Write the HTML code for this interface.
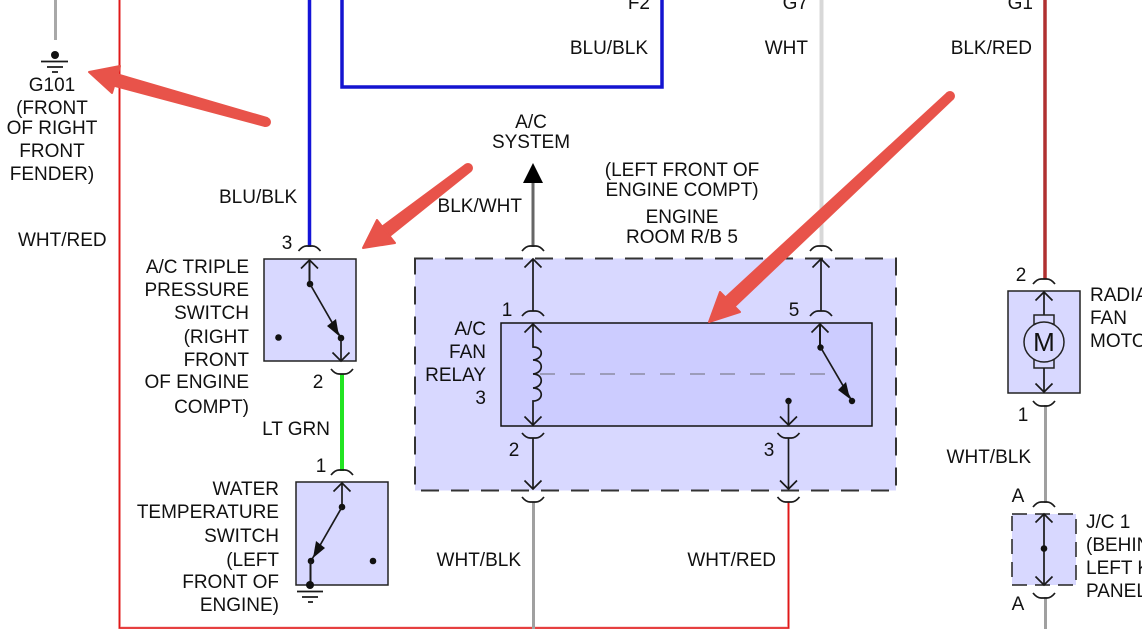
<!DOCTYPE html>
<html><head><meta charset="utf-8"><style>
html,body{margin:0;padding:0;background:#fff}
svg{display:block}
text{font-family:"Liberation Sans",sans-serif;font-size:19px;fill:#111}
.e{text-anchor:end}.m{text-anchor:middle}
.k{fill:none;stroke:#1a1a1a;stroke-width:1.7}
.d{fill:#111;stroke:none}
</style></head><body>
<svg width="1142" height="629" viewBox="0 0 1142 629" xmlns="http://www.w3.org/2000/svg">
<defs>
<path id="ct" class="k" d="M-11 5Q-7 0 -3 0H3Q7 0 11 5"/>
<path id="cb" class="k" d="M-11 0Q-7 5 -3 5H3Q7 5 11 0"/>
<path id="au" class="k" d="M-8.500 8.500L0 0L8.500 8.500"/>
<path id="ad" class="k" d="M-8.500 -8.500L0 0L8.500 -8.500"/>
</defs>
<rect width="1142" height="629" fill="#fff"/>

<!-- wires -->
<line x1="55.500" y1="0" x2="55.500" y2="40" stroke="#a8a8a8" stroke-width="3"/>
<path d="M119.500 0V628H788.500V502" fill="none" stroke="#f6b8b8" stroke-width="3"/>
<path d="M119.500 0V628H788.500V502" fill="none" stroke="#e01818" stroke-width="1.500"/>
<line x1="309.500" y1="0" x2="309.500" y2="247" stroke="#1414d8" stroke-width="3.500"/>
<path d="M342 0V87H662V0" fill="none" stroke="#1414d0" stroke-width="3.500"/>
<line x1="342" y1="374" x2="342" y2="471" stroke="#22e422" stroke-width="4"/>
<line x1="533" y1="180" x2="533" y2="247" stroke="#666" stroke-width="3"/>
<line x1="533.500" y1="502" x2="533.500" y2="629" stroke="#a0a0a0" stroke-width="3"/>
<line x1="821.500" y1="0" x2="821.500" y2="246" stroke="#d8d8d8" stroke-width="4"/>
<line x1="1045" y1="0" x2="1045" y2="279" stroke="#b03030" stroke-width="3.500"/>
<line x1="1045.500" y1="405" x2="1045.500" y2="503" stroke="#a0a0a0" stroke-width="3"/>
<line x1="1045.500" y1="597" x2="1045.500" y2="629" stroke="#a0a0a0" stroke-width="3"/>
<path d="M523 183H543L533 163Z" fill="#000"/>

<!-- ground G101 -->
<circle cx="55" cy="55" r="4" fill="#111"/>
<path class="k" d="M41 61.500H68M47 67H63M52 72H58"/>

<!-- big dashed box -->
<rect x="415" y="258.500" width="481" height="232" fill="#d8d8ff" stroke="#333" stroke-width="2" stroke-dasharray="18 12"/>
<rect x="501" y="323" width="371" height="103" fill="#ccccff" stroke="#111" stroke-width="1.500"/>
<line x1="540" y1="374" x2="825" y2="374" stroke="#808090" stroke-width="1.300" stroke-dasharray="15 15"/>

<!-- relay left column -->
<use href="#ct" x="533" y="246"/>
<use href="#au" x="533" y="259"/>
<line class="k" x1="533" y1="259" x2="533" y2="311"/>
<use href="#ct" x="533" y="311"/>
<use href="#au" x="533" y="324"/>
<path class="k" d="M533 324V347C544 347 544 359 533 360C544 360 544 373 533 374C544 374 544 387 533 388C544 388 544 401 533 401V425"/>
<use href="#ad" x="533" y="425"/>
<use href="#cb" x="533" y="433"/>
<line class="k" x1="533" y1="438" x2="533" y2="488"/>
<use href="#ad" x="533" y="489"/>
<use href="#cb" x="533" y="497"/>

<!-- relay right column -->
<use href="#ct" x="821" y="246"/>
<use href="#au" x="821" y="259"/>
<line class="k" x1="821" y1="259" x2="821" y2="311"/>
<use href="#ct" x="821" y="311"/>
<use href="#au" x="820" y="324"/>
<line x1="820" y1="324" x2="820" y2="347" stroke="#1a1a1a" stroke-width="2"/>
<circle class="d" cx="820.500" cy="347.500" r="3.200"/>
<line class="k" x1="821" y1="348" x2="852" y2="401"/>
<path class="d" d="M850 399L838 390L846 382Z"/>
<circle class="d" cx="852" cy="401" r="3.200"/>
<circle class="d" cx="788.500" cy="401" r="3.200"/>
<line class="k" x1="788.500" y1="401" x2="788.500" y2="424"/>
<use href="#ad" x="788.500" y="425"/>
<use href="#cb" x="788.500" y="433"/>
<line class="k" x1="788.500" y1="438" x2="788.500" y2="488"/>
<use href="#ad" x="788.500" y="489"/>
<use href="#cb" x="788.500" y="497"/>

<!-- triple pressure switch -->
<use href="#ct" x="309.500" y="246"/>
<rect x="264" y="259" width="92" height="102" fill="#d8d8ff" stroke="#222" stroke-width="1.500"/>
<use href="#au" x="309.500" y="260"/>
<line x1="309.500" y1="260" x2="309.500" y2="284" stroke="#1a1a1a" stroke-width="2"/>
<circle class="d" cx="310" cy="284" r="3.300"/>
<line class="k" x1="310" y1="284" x2="341" y2="338"/>
<path class="d" d="M339 336L327 326L336 319Z"/>
<circle class="d" cx="341" cy="338" r="3.300"/>
<circle class="d" cx="278.500" cy="337.500" r="3.300"/>
<line class="k" x1="341" y1="338" x2="341" y2="360"/>
<use href="#ad" x="341" y="361"/>
<use href="#cb" x="342" y="369"/>

<!-- water temp switch -->
<use href="#ct" x="342" y="470"/>
<rect x="296" y="482" width="92" height="103" fill="#d8d8ff" stroke="#222" stroke-width="1.500"/>
<use href="#au" x="342" y="483"/>
<line class="k" x1="342" y1="483" x2="342" y2="507"/>
<circle class="d" cx="342" cy="507" r="3.300"/>
<line class="k" x1="342" y1="507" x2="311" y2="561"/>
<path class="d" d="M313 558L325 548L316 541Z"/>
<circle class="d" cx="311" cy="561" r="3.300"/>
<circle class="d" cx="373" cy="561" r="3.300"/>
<line x1="310.500" y1="561" x2="310.500" y2="585" stroke="#1a1a1a" stroke-width="2"/>
<circle class="d" cx="310" cy="585" r="4"/>
<path class="k" d="M297 591.500H323M302 597H318M308 602H313"/>

<!-- motor -->
<use href="#ct" x="1044" y="279"/>
<rect x="1008" y="291" width="72" height="102" fill="#d8d8ff" stroke="#222" stroke-width="1.500"/>
<use href="#au" x="1044" y="292"/>
<line class="k" x1="1044" y1="292" x2="1044" y2="315"/>
<rect x="1034" y="315" width="20" height="53" fill="none" stroke="#222" stroke-width="1.500"/>
<circle cx="1044" cy="342" r="20" fill="#d8d8ff" stroke="#222" stroke-width="1.500"/>
<text x="1044" y="351" class="m" style="font-size:26px">M</text>
<line class="k" x1="1044" y1="368" x2="1044" y2="392"/>
<use href="#ad" x="1044" y="392"/>
<use href="#cb" x="1044" y="401"/>

<!-- J/C -->
<use href="#ct" x="1044" y="502"/>
<rect x="1012" y="514" width="64" height="71" fill="#d8d8ff" stroke="#222" stroke-width="1.500" stroke-dasharray="15 8"/>
<line class="k" x1="1044" y1="514" x2="1044" y2="584"/>
<use href="#au" x="1044" y="514"/>
<use href="#ad" x="1044" y="585"/>
<circle class="d" cx="1044" cy="548.500" r="3.300"/>
<use href="#cb" x="1044" y="593"/>

<!-- text -->
<text x="52" y="91" class="m">G101</text>
<text x="52" y="114" class="m">(FRONT</text>
<text x="52" y="134" class="m">OF RIGHT</text>
<text x="52" y="157" class="m">FRONT</text>
<text x="52" y="180" class="m">FENDER)</text>
<text x="18" y="246">WHT/RED</text>
<text x="219" y="203">BLU/BLK</text>
<text x="287" y="249" class="m">3</text>
<text x="249" y="273" class="e">A/C TRIPLE</text>
<text x="249" y="296" class="e">PRESSURE</text>
<text x="249" y="319" class="e">SWITCH</text>
<text x="249" y="343" class="e">(RIGHT</text>
<text x="249" y="366" class="e">FRONT</text>
<text x="249" y="388" class="e">OF ENGINE</text>
<text x="249" y="413" class="e">COMPT)</text>
<text x="318" y="388" class="m">2</text>
<text x="330" y="435" class="e">LT GRN</text>
<text x="321" y="472" class="m">1</text>
<text x="279" y="495" class="e">WATER</text>
<text x="279" y="518" class="e">TEMPERATURE</text>
<text x="279" y="542" class="e">SWITCH</text>
<text x="279" y="566" class="e">(LEFT</text>
<text x="279" y="588" class="e">FRONT OF</text>
<text x="279" y="611" class="e">ENGINE)</text>
<text x="650" y="9" class="e">F2</text>
<text x="648" y="54" class="e">BLU/BLK</text>
<text x="808" y="54" class="e">WHT</text>
<text x="808" y="9" class="e">G7</text>
<text x="1032" y="54" class="e">BLK/RED</text>
<text x="1033" y="9" class="e">G1</text>
<text x="531" y="128" class="m">A/C</text>
<text x="531" y="148" class="m">SYSTEM</text>
<text x="522" y="212" class="e">BLK/WHT</text>
<text x="682" y="176" class="m">(LEFT FRONT OF</text>
<text x="682" y="196" class="m">ENGINE COMPT)</text>
<text x="682" y="223" class="m">ENGINE</text>
<text x="682" y="243" class="m">ROOM R/B 5</text>
<text x="507" y="316" class="m">1</text>
<text x="486" y="335" class="e">A/C</text>
<text x="486" y="358" class="e">FAN</text>
<text x="486" y="381" class="e">RELAY</text>
<text x="486" y="404" class="e">3</text>
<text x="514" y="456" class="m">2</text>
<text x="794" y="316" class="m">5</text>
<text x="769" y="456" class="m">3</text>
<text x="521" y="566" class="e">WHT/BLK</text>
<text x="776" y="566" class="e">WHT/RED</text>
<text x="1021" y="281" class="m">2</text>
<text x="1090" y="301">RADIATOR</text>
<text x="1090" y="324">FAN</text>
<text x="1090" y="347">MOTOR</text>
<text x="1023" y="421" class="m">1</text>
<text x="1031" y="463" class="e">WHT/BLK</text>
<text x="1018" y="502" class="m">A</text>
<text x="1086" y="528">J/C 1</text>
<text x="1086" y="551">(BEHIND</text>
<text x="1086" y="574">LEFT KICK</text>
<text x="1086" y="597">PANEL)</text>
<text x="1018" y="610" class="m">A</text>

<!-- red annotation arrows -->
<g fill="#e8534a" stroke="#e8534a" stroke-width="2" stroke-linejoin="round">
<path d="M267 118L265 126L110.400 84.800L113.600 73.200Z"/>
<circle cx="266" cy="122" r="4"/>
<path d="M89 72L120 66L112 93Z"/>
<path d="M470.400 171.200L465.600 164.800L381.300 227.300L388.700 236.700Z"/>
<circle cx="468" cy="168" r="4"/>
<path d="M363 248L377 220L395 243Z"/>
<path d="M952.700 98.900L947.300 93.100L725.600 297.300L734.400 306.700Z"/>
<circle cx="950" cy="96" r="4"/>
<path d="M709 322L720 292L740 312Z"/>
</g>
</svg>
</body></html>
